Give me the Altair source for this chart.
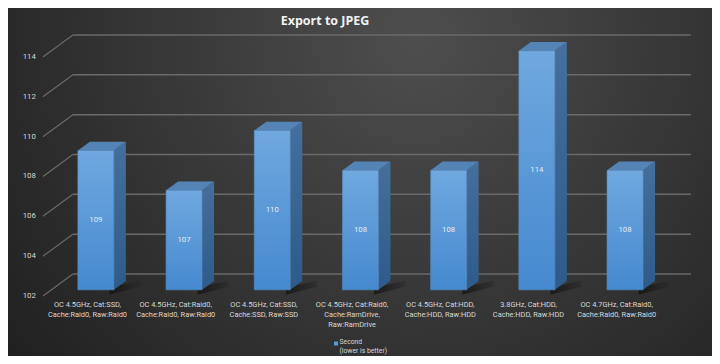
import altair as alt
import pandas as pd

# ---- data ----
categories = [
    "OC 4.5GHz, Cat:SSD,\nCache:Raid0, Raw:Raid0",
    "OC 4.5GHz, Cat:Raid0,\nCache:Raid0, Raw:Raid0",
    "OC 4.5GHz, Cat:SSD,\nCache:SSD, Raw:SSD",
    "OC 4.5GHz, Cat:Raid0,\nCache:RamDrive,\nRaw:RamDrive",
    "OC 4.5GHz, Cat:HDD,\nCache:HDD, Raw:HDD",
    "3.8GHz, Cat:HDD,\nCache:HDD, Raw:HDD",
    "OC 4.7GHz, Cat:Raid0,\nCache:Raid0, Raw:Raid0",
]
seconds = [109, 107, 110, 108, 108, 114, 108]
y_ticks = [102, 104, 106, 108, 110, 112, 114]
title_text = "Export to JPEG"
legend_lines = ["Second", "(lower is better)"]

# ---- layout / style (3D projection in scale units) ----
W, H = 704, 348
XD = [-0.901, 7.081]
YD = [98.987, 116.46]
BASE = 102
DX, DY = 0.34, 1.104          # full depth of the plot box
FRONT = 0.28                  # bar front plane (fraction of depth)
SIDE = 0.40                   # bar depth (fraction of depth)
HALF = 0.204                  # half bar width
LEFT, RIGHT = -0.505, 6.502   # front plane x extent
FONT = "Roboto"

xs = alt.Scale(domain=XD, nice=False, zero=False)
ys = alt.Scale(domain=YD, nice=False, zero=False)

def X(f, **k):
    return alt.X(f, type="quantitative", scale=xs, axis=None, **k)

def Y(f, **k):
    return alt.Y(f, type="quantitative", scale=ys, axis=None, **k)

# background
bg = alt.Chart(pd.DataFrame({"a": [0]})).mark_rect(
    color={"gradient": "radial", "x1": 0.58, "y1": 0.3, "r1": 0,
           "x2": 0.58, "y2": 0.3, "r2": 0.78,
           "stops": [{"offset": 0, "color": "#4e4e4e"},
                     {"offset": 1, "color": "#1d1d1d"}]}
).encode(x=alt.value(0), x2=alt.value(W), y=alt.value(0), y2=alt.value(H))

# grid: back wall lines and diagonals
grid_df = pd.DataFrame({
    "t": y_ticks,
    "tb": [t + DY for t in y_ticks],
    "xl": [LEFT] * len(y_ticks),
    "xlb": [LEFT + DX] * len(y_ticks),
    "xrb": [RIGHT + DX] * len(y_ticks),
})
grid_back = alt.Chart(grid_df).mark_rule(color="#6a6a6a", strokeWidth=1.5).encode(
    x=X("xlb"), x2="xrb", y=Y("tb"))
grid_diag = alt.Chart(grid_df).mark_rule(color="#6a6a6a", strokeWidth=1.2).encode(
    x=X("xl"), x2="xlb", y=Y("t"), y2="tb")

# bars
f_off_x, f_off_y = FRONT * DX, FRONT * DY
s_x, s_y = SIDE * DX, SIDE * DY
rows = []
for i, v in enumerate(seconds):
    rows.append({"i": i, "v": v,
                 "l": i + f_off_x - HALF, "r": i + f_off_x + HALF,
                 "b": BASE + f_off_y, "t": v + f_off_y,
                 "mid": (BASE + v) / 2 + f_off_y, "cx": i + f_off_x})
bars = pd.DataFrame(rows)

# soft floor shadow to the right of each bar
sh_rows = []
for r in rows:
    sh_rows.append({"i": r["i"], "x": r["r"] - 0.05, "y": r["b"] - 0.25, "y2": r["b"] + 0.1})
    sh_rows.append({"i": r["i"], "x": r["r"] + 0.3, "y": r["b"] + 0.15, "y2": r["b"] + 0.45})
shadow = alt.Chart(pd.DataFrame(sh_rows)).mark_area(
    orient="vertical", interpolate="monotone",
    color={"gradient": "linear", "x1": 0, "y1": 0, "x2": 1, "y2": 0,
           "stops": [{"offset": 0, "color": "#050505"},
                     {"offset": 1, "color": "#2a2a2a"}]},
    opacity=0.55
).encode(x=X("x"), y=Y("y"), y2="y2", detail="i:N")

front = alt.Chart(bars).mark_rect(
    color={"gradient": "linear", "x1": 0, "y1": 0, "x2": 0, "y2": 1,
           "stops": [{"offset": 0, "color": "#70a8df"},
                     {"offset": 1, "color": "#4589cf"}]},
    stroke="#5b8fc4", strokeWidth=0.6
).encode(x=X("l"), x2="r", y=Y("b"), y2="t")

side_rows, top_rows = [], []
for r in rows:
    side_rows.append({"i": r["i"], "x": r["r"], "y": r["b"], "y2": r["t"]})
    side_rows.append({"i": r["i"], "x": r["r"] + s_x, "y": r["b"] + s_y, "y2": r["t"] + s_y})
    top_rows.append({"i": r["i"], "y": r["t"], "x": r["l"], "x2": r["r"]})
    top_rows.append({"i": r["i"], "y": r["t"] + s_y, "x": r["l"] + s_x, "x2": r["r"] + s_x})

side = alt.Chart(pd.DataFrame(side_rows)).mark_area(
    orient="vertical",
    color={"gradient": "linear", "x1": 0, "y1": 0, "x2": 0, "y2": 1,
           "stops": [{"offset": 0, "color": "#456f9c"},
                     {"offset": 1, "color": "#2e5b8a"}]}
).encode(x=X("x"), y=Y("y"), y2="y2", detail="i:N")

top = alt.Chart(pd.DataFrame(top_rows)).mark_area(
    orient="horizontal", color="#5483b5"
).encode(y=Y("y"), x=X("x"), x2="x2", detail="i:N")

val_labels = alt.Chart(bars).mark_text(
    font=FONT, fontSize=7.8, color="#e4ecf6", baseline="middle"
).encode(x=X("cx"), y=Y("mid"), text="v:Q")

# axis labels
ylab = alt.Chart(grid_df.assign(xp=LEFT - 0.08)).mark_text(
    font=FONT, fontSize=7.8, color="#d8d8d8", align="right", baseline="middle"
).encode(x=X("xp"), y=Y("t"), text="t:Q")

cat_df = pd.DataFrame({"i": list(range(len(categories))), "c": categories,
                       "yy": [101.77] * len(categories)})
xlab = alt.Chart(cat_df).mark_text(
    font=FONT, fontSize=7.4, color="#d8d8d8", align="center", baseline="top",
    lineBreak="\n", lineHeight=10.2
).encode(x=X("i"), y=Y("yy"), text="c:N")

# title
title = alt.Chart(pd.DataFrame({"s": [title_text]})).mark_text(
    font="Open Sans", fontSize=12.5, fontWeight="bold", color="#f2f2f2", align="center",
    baseline="middle"
).encode(x=alt.value(317), y=alt.value(13), text="s:N")

# legend
leg_sq = alt.Chart(pd.DataFrame({"a": [0]})).mark_square(
    color="#5b9bd5", size=16, opacity=1
).encode(x=alt.value(328), y=alt.value(335.5))
leg_txt = alt.Chart(pd.DataFrame({"s": ["\n".join(legend_lines)]})).mark_text(
    font=FONT, fontSize=6.8, color="#d8d8d8", align="left", baseline="top",
    lineBreak="\n", lineHeight=9.4
).encode(x=alt.value(331.5), y=alt.value(331), text="s:N")

chart = alt.layer(
    bg, grid_back, grid_diag, shadow, side, top, front, val_labels, ylab, xlab,
    title, leg_sq, leg_txt
).properties(
    width=W, height=H, autosize=alt.AutoSizeParams(type="none"), padding=0
).configure_view(stroke=None).configure(background="#1d1d1d")

chart.save("out.html", embed_options={"renderer": "svg", "actions": False})
